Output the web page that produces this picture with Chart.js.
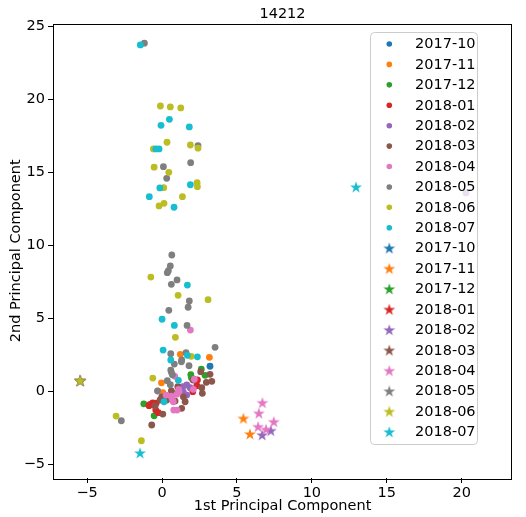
<!DOCTYPE html>
<html>
<head>
<meta charset="utf-8">
<script src="https://cdn.jsdelivr.net/npm/chart.js@4.4.1/dist/chart.umd.min.js"></script>
<style>
body{margin:0;background:#fff;}
canvas{display:block;}
</style>
</head>
<body>
<canvas id="chart" width="526" height="517"></canvas>
<script>

/* DATA */

const months=["2017-10","2017-11","2017-12","2018-01","2018-02","2018-03","2018-04","2018-05","2018-06","2018-07"];
const colors=["#1f77b4","#ff7f0e","#2ca02c","#d62728","#9467bd","#8c564b","#e377c2","#7f7f7f","#bcbd22","#17becf"];

const dots1710=[[3.20,1.73]];
const dots1711=[[1.22,2.55],[3.16,2.34],[-0.04,0.60],[0.05,-0.08]];
const dots1712=[[2.62,1.54],[1.92,1.15],[2.87,1.11],[1.96,0.95],[-1.22,-0.84],[-0.53,-1.66]];
const dots1801=[[2.36,0.79],[2.32,0.40],[2.05,-0.01],[-0.62,-0.77],[-0.80,-0.88],[-0.87,-0.97],[-0.42,-1.27],[-0.25,-1.45],[-0.40,-0.80],[0.10,-0.50]];
const dots1802=[[20.29,13.6],[1.65,0.45],[1.38,0.33],[1.87,0.26],[1.42,-0.05],[1.65,-0.24],[1.20,0.10]];
const dots1803=[[2.58,1.36],[3.20,1.18],[2.07,0.79],[2.96,0.63],[3.32,0.70],[1.05,0.33],[2.65,0.26],[0.62,0.05],[0.75,-0.12],[2.69,-0.12],[1.42,-0.36],[-0.02,-0.36],[-0.13,-0.58],[0.31,-0.58],[0.87,-0.65],[1.54,-0.70],[-0.47,-0.99],[1.31,-1.15],[0.05,-1.54],[-0.69,-2.29]];
const dots1804=[[1.89,4.21],[0.85,1.04],[2.16,0.84],[2.09,0.15],[-0.29,0.03],[1.11,0.15],[1.13,-0.01],[0.98,-0.19],[0.27,-0.24],[0.60,-0.31],[0.67,-0.49],[0.75,-0.70],[0.78,-1.27],[1.00,-1.27]];
const dots1805=[[-1.18,23.85],[2.40,16.84],[1.91,15.67],[0.09,15.40],[0.31,14.60],[0.65,9.35],[0.55,8.60],[0.42,8.27],[0.35,8.14],[1.00,7.64],[0.62,7.34],[1.82,6.20],[1.74,5.77],[0.45,5.56],[1.67,4.53],[3.54,3.03],[0.58,2.59],[1.60,2.66],[1.31,2.16],[1.29,2.04],[0.82,1.88],[1.80,1.77],[0.58,1.47],[0.62,1.32],[0.69,1.15],[0.35,0.74],[0.55,0.47],[-0.30,0.05],[-2.72,-2.00]];
const dots1806=[[-0.11,19.55],[0.55,19.49],[1.25,19.42],[0.33,17.07],[-0.58,16.61],[1.89,16.88],[2.40,16.66],[-0.53,15.36],[0.45,15.01],[2.34,14.30],[2.36,14.03],[0.11,13.96],[1.36,13.34],[0.13,12.89],[-0.20,12.71],[-0.75,7.84],[1.07,6.59],[3.07,6.29],[0.89,3.71],[1.94,2.41],[-0.62,0.92],[-3.07,-1.68],[-1.38,-3.37]];
const dots1807=[[-1.45,23.73],[0.49,18.64],[-0.07,18.23],[1.82,18.12],[-0.42,16.61],[-0.20,16.61],[1.89,14.16],[-0.15,13.94],[-0.85,13.34],[0.80,12.62],[1.69,7.29],[0.00,4.95],[0.82,4.53],[0.07,2.84],[1.69,2.48],[2.36,2.38],[0.58,2.16],[1.09,0.77],[0.13,-0.70]];

const stars1710=[[-5.47,0.74]];
const stars1711=[[5.43,-1.84],[5.87,-2.91]];
const stars1712=[[-5.47,0.74]];
const stars1801=[[-5.47,0.74]];
const stars1802=[[7.26,-2.68],[6.68,-2.98]];
const stars1803=[[-5.47,0.74]];
const stars1804=[[6.70,-0.77],[6.46,-1.49],[7.46,-2.07],[6.41,-2.41],[6.94,-2.59]];
const stars1805=[[-5.47,0.74]];
const stars1806=[[-5.47,0.74]];
const stars1807=[[-1.47,-4.21],[12.95,14.0]];

const xTicks=[-5,0,5,10,15,20];
const yTicks=[-5,0,5,10,15,20,25];

const dotSets=[dots1710,dots1711,dots1712,dots1801,dots1802,dots1803,dots1804,dots1805,dots1806,dots1807];
const starSets=[stars1710,stars1711,stars1712,stars1801,stars1802,stars1803,stars1804,stars1805,stars1806,stars1807];

/* STAR MARKER */

function starImage(color){
const c=document.createElement("canvas");
c.width=14;c.height=14;
const g=c.getContext("2d");
g.fillStyle=color;
g.beginPath();
for(let i=0;i<10;i++){
const r=i%2?2.4:6.2;
const a=-Math.PI/2+i*Math.PI/5;
const px=7+r*Math.cos(a),py=7.4+r*Math.sin(a);
if(i) g.lineTo(px,py); else g.moveTo(px,py);
}
g.closePath();
g.fill();
return c;
}

const starImgs=colors.map(starImage);

/* DATASETS */

const datasets=[];

months.forEach((m,i)=>{
datasets.push({
label:m,
data:dotSets[i].map(p=>({x:p[0],y:p[1]})),
backgroundColor:colors[i],
borderWidth:0,
pointRadius:3.4,
order:40-i
});
});

months.forEach((m,i)=>{
datasets.push({
label:m,
data:starSets[i].map(p=>({x:p[0],y:p[1]})),
pointStyle:starImgs[i],
pointRadius:7,
order:20-i
});
});

/* FRAME, TITLE, LEGEND */

const decor={
id:"decor",
afterDraw(chart){
const {ctx,chartArea:a}=chart;
ctx.save();
ctx.strokeStyle="#000";
ctx.lineWidth=1;
ctx.strokeRect(Math.round(a.left)+0.5,Math.round(a.top)+0.5,Math.round(a.right-a.left)-1,Math.round(a.bottom-a.top));

ctx.fillStyle="#000";
ctx.font="14.5px 'DejaVu Sans'";
ctx.textAlign="center";
ctx.textBaseline="alphabetic";
ctx.fillText("14212",(a.left+a.right)/2,17.5);

ctx.beginPath();
ctx.roundRect(370.5,32.5,107,412,4);
ctx.fillStyle="rgba(255,255,255,0.8)";
ctx.fill();
ctx.strokeStyle="#cccccc";
ctx.stroke();

ctx.textAlign="left";
ctx.textBaseline="middle";
for(let i=0;i<20;i++){
const y=44+i*20.42;
const k=i%10;
if(i<10){
ctx.beginPath();
ctx.arc(389.3,y,2.8,0,Math.PI*2);
ctx.fillStyle=colors[k];
ctx.fill();
}else{
ctx.drawImage(starImgs[k],389.3-7,y-7);
}
ctx.fillStyle="#000";
ctx.fillText(months[k],415,y+0.5);
}
ctx.restore();
}
};

/* CHART */

Chart.defaults.font.family="'DejaVu Sans'";
Chart.defaults.font.size=14.5;
Chart.defaults.color="#000";

new Chart(document.getElementById("chart"),{
type:"scatter",
data:{datasets:datasets},
options:{
responsive:false,
animation:false,
events:[],
layout:{padding:{top:23.5,right:14,bottom:0,left:0}},
plugins:{legend:{display:false},tooltip:{enabled:false},title:{display:false}},
scales:{
x:{
type:"linear",
min:-7.28,
max:23.36,
afterFit:s=>{s.height=39;},
afterBuildTicks:s=>{s.ticks=xTicks.map(v=>({value:v}));},
ticks:{color:"#000",padding:2,maxRotation:0,autoSkip:false,callback:v=>String(v).replace("-","\u2212")},
grid:{display:true,drawOnChartArea:false,drawTicks:true,tickLength:5,color:"#000"},
border:{display:false},
title:{display:true,text:"1st Principal Component",color:"#000",padding:{top:0,bottom:2}}
},
y:{
type:"linear",
min:-5.92,
max:25.2,
afterFit:s=>{s.width=53;},
afterBuildTicks:s=>{s.ticks=yTicks.map(v=>({value:v}));},
ticks:{color:"#000",padding:3,autoSkip:false,callback:v=>String(v).replace("-","\u2212")},
grid:{display:true,drawOnChartArea:false,drawTicks:true,tickLength:5,color:"#000"},
border:{display:false},
title:{display:true,text:"2nd Principal Component",color:"#000",padding:{top:8,bottom:0}}
}
}
},
plugins:[decor]
});

</script>
</body>
</html>
